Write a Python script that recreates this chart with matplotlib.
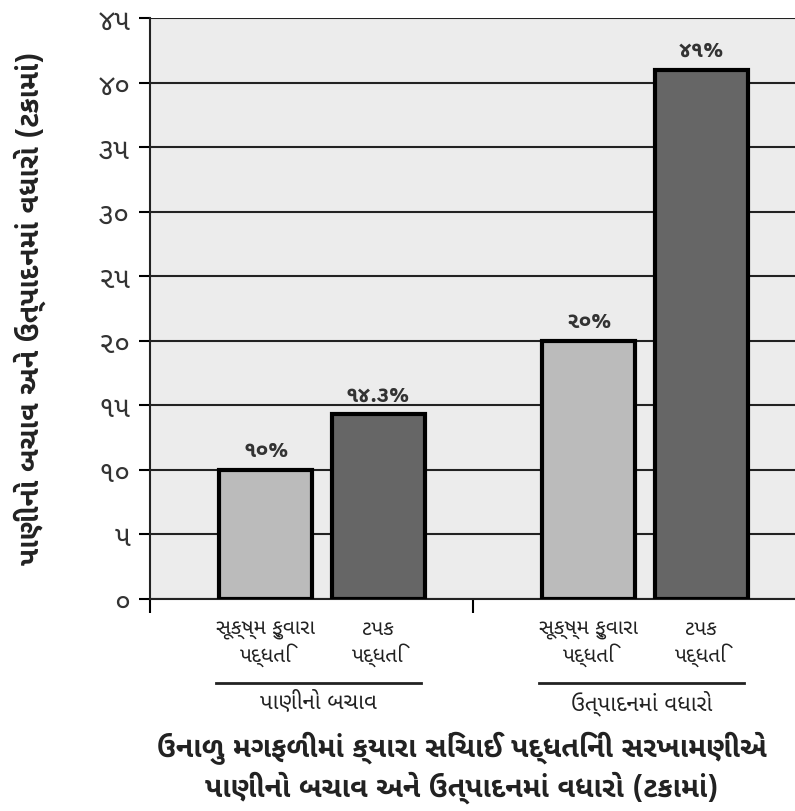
import matplotlib
matplotlib.use("Agg")
import matplotlib.pyplot as plt
from matplotlib import font_manager
from matplotlib.ft2font import FT2Font

# data
groups = ["પાણીનો બચાવ", "ઉત્પાદનમાં વધારો"]
methods = ["સૂક્ષ્મ ફુવારા\nપદ્ધતિ", "ટપક\nપદ્ધતિ"]
values = [[10, 14.3], [20, 41]]
value_labels = [["૧૦%", "૧૪.૩%"], ["૨૦%", "૪૧%"]]
yticks = [0, 5, 10, 15, 20, 25, 30, 35, 40, 45]
ytick_labels = ["૦", "૫", "૧૦", "૧૫", "૨૦", "૨૫", "૩૦", "૩૫", "૪૦", "૪૫"]
ylabel = "પાણીનો બચાવ અને ઉત્પાદનમાં વધારો (ટકામાં)"
title = "ઉનાળુ મગફળીમાં ક્યારા સિંચાઈ પદ્ધતિની સરખામણીએ\nપાણીનો બચાવ અને ઉત્પાદનમાં વધારો (ટકામાં)"
colors = ["#bbbbbb", "#666666"]

# find installed fonts with Gujarati glyphs, prefer a sans one
cands = []
for f in font_manager.fontManager.ttflist:
    try:
        if FT2Font(f.fname).get_char_index(0x0A95):
            cands.append(f.name)
    except Exception:
        pass

def rank(name):
    n = name.lower()
    score = 0
    if "gujarati" in n or "shruti" in n or "lohit" in n:
        score -= 10
    if "sans" in n:
        score -= 5
    if "mono" in n:
        score += 10
    return score

cands = sorted(set(cands), key=rank)
fams = cands[:1] + ["Noto Sans", "DejaVu Sans"]
plt.rcParams['font.family'] = fams

fig = plt.figure(figsize=(7.95, 8.12), dpi=100)
ax = fig.add_axes([150 / 795, 1 - 600 / 812, 645 / 795, 581 / 812])
ax.set_facecolor("#ececec")

slot = 1.0
offsets = [0.359, 0.706]
width = 0.288

for g, vals in enumerate(values):
    for j, v in enumerate(vals):
        x = g * slot + offsets[j]
        ax.bar(x, v, width, color=colors[j], edgecolor="black", linewidth=3, zorder=3)
        ax.text(x, v + 0.7, value_labels[g][j], ha="center", va="bottom",
                fontsize=16, fontweight="bold", color="#333333", zorder=4)
        ax.text(x, -1.5, methods[j], ha="center", va="top", fontsize=15,
                color="#222222", linespacing=1.15)
    # group underline and label
    x0 = g * slot + offsets[0] - width / 2 - 0.01
    x1 = g * slot + offsets[1] + width / 2 - 0.01
    ax.plot([x0, x1], [-6.5, -6.5], color="#222222", lw=2, clip_on=False)
    ax.text((x0 + x1) / 2, -7.0, groups[g], ha="center", va="top", fontsize=16, color="#222222")

ax.set_xlim(0, 645 / 323)
ax.set_ylim(0, 45)
ax.set_yticks(yticks)
ax.set_yticklabels(ytick_labels, fontsize=21, color="#333333")
ax.set_xticks([0, 1])
ax.set_xticklabels([])
ax.tick_params(axis="y", direction="out", length=8, width=1.5, pad=6)
ax.tick_params(axis="x", direction="out", length=10, width=1.5)
ax.yaxis.grid(True, color="#222222", linewidth=1.5, zorder=1)
ax.set_axisbelow(True)
for s in ["top", "right"]:
    ax.spines[s].set_visible(False)
for s in ["left", "bottom"]:
    ax.spines[s].set_linewidth(1.5)
    ax.spines[s].set_color("#222222")

fig.text(30 / 795, 1 - 308 / 812, ylabel, rotation=90, ha="center", va="center",
         fontsize=20.5, fontweight="bold", color="#222222")
fig.text(462 / 795, 1 - 768 / 812, title, ha="center", va="center",
         fontsize=20.5, fontweight="bold", color="#222222", linespacing=1.25)

fig.savefig("out.png", dpi=100)
